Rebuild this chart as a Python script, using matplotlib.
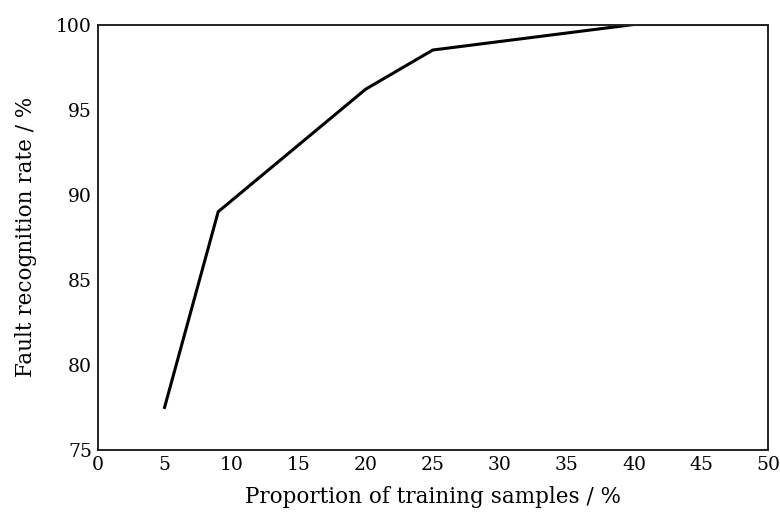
import matplotlib.pyplot as plt

# training sample proportion vs recognition rate
proportion = [5, 9, 20, 25, 40, 50]
recognition_rate = [77.5, 89.0, 96.2, 98.5, 100.0, 100.0]

x_ticks = [0, 5, 10, 15, 20, 25, 30, 35, 40, 45, 50]
y_ticks = [75, 80, 85, 90, 95, 100]

plt.rcParams['font.family'] = ['DejaVu Serif']

fig = plt.figure(figsize=(7.8, 5.12), dpi=100)
ax = fig.add_axes([97.5 / 780, 1 - 450 / 512, (768 - 97.5) / 780, (450 - 24.5) / 512])

ax.plot(proportion, recognition_rate, color='black', linewidth=2.2, solid_joinstyle='miter')

ax.set_xlim(0, 50)
ax.set_ylim(75, 100)
ax.set_xticks(x_ticks)
ax.set_yticks(y_ticks)
ax.tick_params(axis='both', length=0, labelsize=13.5, pad=4)
for s in ax.spines.values():
    s.set_linewidth(1.4)
    s.set_color('#222222')

ax.set_xlabel('Proportion of training samples / %', fontsize=15.5, labelpad=9)
ax.set_ylabel('Fault recognition rate / %', fontsize=15.5, labelpad=14)

fig.savefig('out.png', dpi=100)
